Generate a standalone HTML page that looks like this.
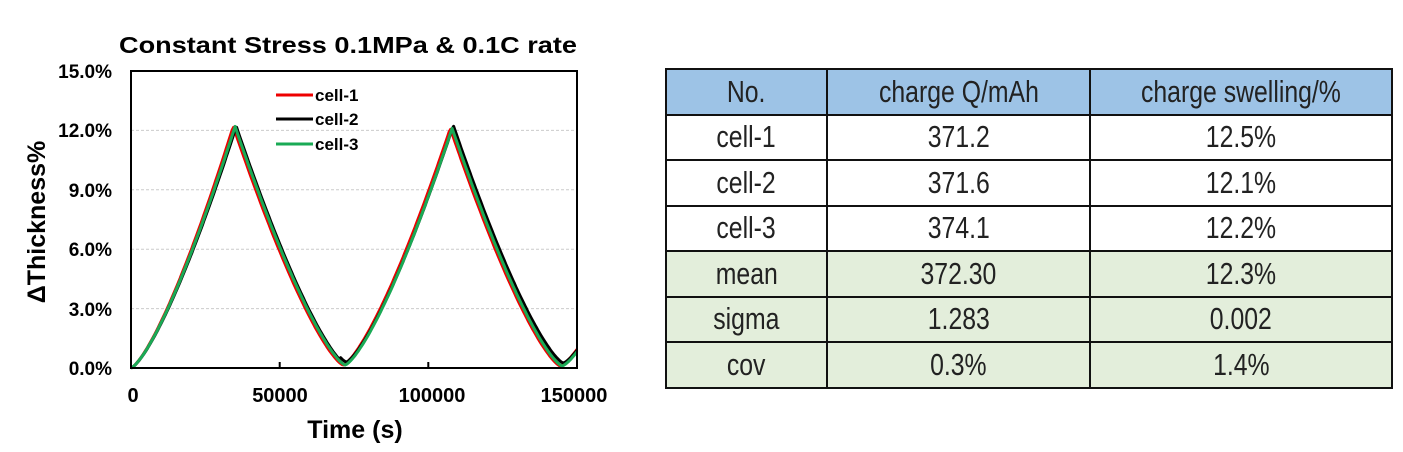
<!DOCTYPE html>
<html><head><meta charset="utf-8"><style>
body{margin:0;background:#fff;width:1403px;height:452px;overflow:hidden;position:relative;font-family:"Liberation Sans",sans-serif}
table{position:absolute;left:665px;top:68px;border-collapse:collapse;width:728px}
td{border:2px solid #111;height:43.5px;padding:0;text-align:center;font-size:31px;color:#222;font-weight:300}
td span{display:inline-block;transform:scaleX(0.8)}
tr.h td{background:#9dc3e6}
tr.g td{background:#e3eedb}
</style></head><body>
<svg width="620" height="452" style="position:absolute;left:0;top:0" font-family="Liberation Sans, sans-serif" font-weight="bold">
<text x="348" y="53" font-size="23" text-anchor="middle" textLength="458" lengthAdjust="spacingAndGlyphs">Constant Stress 0.1MPa &amp; 0.1C rate</text>
<g stroke="#ccc" stroke-dasharray="3,2" stroke-width="1">
<line x1="131" x2="577" y1="130.4" y2="130.4"/><line x1="131" x2="577" y1="189.8" y2="189.8"/>
<line x1="131" x2="577" y1="249.2" y2="249.2"/><line x1="131" x2="577" y1="308.6" y2="308.6"/>
</g>
<g id="curves" fill="none" stroke-width="3" stroke-linejoin="round"></g>
<rect x="131" y="71" width="446" height="297" fill="none" stroke="#000" stroke-width="2"/>
<g stroke="#000" stroke-width="2"><line x1="279.7" x2="279.7" y1="368" y2="362"/><line x1="428.3" x2="428.3" y1="368" y2="362"/></g>
<g font-size="19" text-anchor="end">
<text x="112" y="78">15.0%</text><text x="112" y="137">12.0%</text><text x="112" y="197">9.0%</text>
<text x="112" y="256">6.0%</text><text x="112" y="316">3.0%</text><text x="112" y="375">0.0%</text>
</g>
<g font-size="20" text-anchor="middle">
<text x="133" y="402">0</text><text x="280" y="402">50000</text><text x="432" y="402">100000</text><text x="574" y="402">150000</text>
</g>
<text x="355" y="438" font-size="25" text-anchor="middle">Time (s)</text>
<text transform="translate(45,222) rotate(-90)" font-size="25" text-anchor="middle">ΔThickness%</text>
<g font-size="17">
<line x1="276" x2="313" y1="95" y2="95" stroke="#e00" stroke-width="3"/><text x="315" y="101">cell-1</text>
<line x1="276" x2="313" y1="119" y2="119" stroke="#000" stroke-width="3"/><text x="315" y="125">cell-2</text>
<line x1="276" x2="313" y1="144" y2="144" stroke="#1aaa55" stroke-width="3"/><text x="315" y="150">cell-3</text>
</g>
</svg>
<table>
<tr class="h"><td style="width:159px"><span>No.</span></td><td style="width:261px"><span>charge Q/mAh</span></td><td><span>charge swelling/%</span></td></tr>
<tr><td><span>cell-1</span></td><td><span>371.2</span></td><td><span>12.5%</span></td></tr>
<tr><td><span>cell-2</span></td><td><span>371.6</span></td><td><span>12.1%</span></td></tr>
<tr><td><span>cell-3</span></td><td><span>374.1</span></td><td><span>12.2%</span></td></tr>
<tr class="g"><td><span>mean</span></td><td><span>372.30</span></td><td><span>12.3%</span></td></tr>
<tr class="g"><td><span>sigma</span></td><td><span>1.283</span></td><td><span>0.002</span></td></tr>
<tr class="g"><td><span>cov</span></td><td><span>0.3%</span></td><td><span>1.4%</span></td></tr>
</table>
<script>
function f(t,s){
 var p=[[0,0],[35000+s,12.2],[72000+s,0.15],[108000+s,12.1],[145000+s,0.1],[185000+s,12]];
 for(var i=0;i<p.length-1;i++){var a=p[i],b=p[i+1];if(t<=b[0]){var u=(t-a[0])/(b[0]-a[0]);
  if(b[1]>a[1])return a[1]+(b[1]-a[1])*Math.pow(u,1.35);else return b[1]+(a[1]-b[1])*Math.pow(1-u,1.35);}}
 return 0;}
var g=document.getElementById('curves'),cs=[['#e00',-600,0],['#000',400,0.15],['#1aaa55',0,0]];
cs.forEach(function(c){var d='';for(var t=0;t<=150000;t+=500){var x=131+t/150000*446,y=368-(f(t,c[1])+(t>70000?c[2]:0))/15*297;d+=(t?'L':'M')+x.toFixed(1)+' '+y.toFixed(1);}
 var e=document.createElementNS('http://www.w3.org/2000/svg','path');e.setAttribute('d',d);e.setAttribute('stroke',c[0]);g.appendChild(e);});
</script>
</body></html>
